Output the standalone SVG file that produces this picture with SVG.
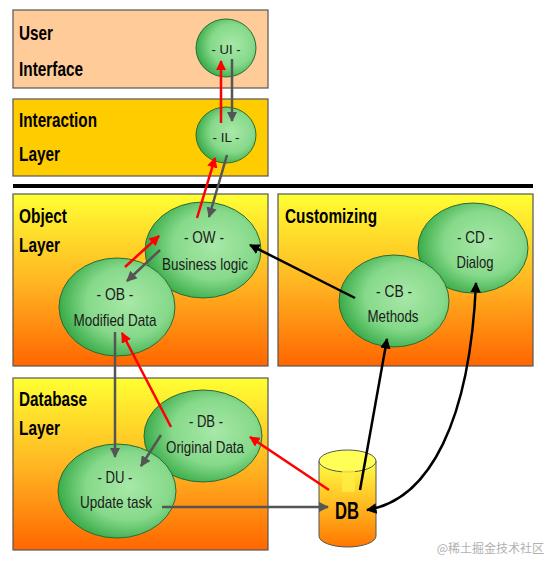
<svg xmlns="http://www.w3.org/2000/svg" width="548" height="562" viewBox="0 0 548 562">
<defs>
<style>
.layer{stroke:#555;stroke-width:1.2}
.title{font-family:"Liberation Sans",Arial,sans-serif;font-weight:bold;font-size:21px;fill:#000}
.node{fill:url(#green);stroke:#2d6a35;stroke-width:1}
.lbl{font-family:"Liberation Sans",Arial,sans-serif;font-size:17px;fill:#1a1a1a;text-anchor:middle}
.sm{font-size:13px}
.red{stroke:#ff0000;stroke-width:2.5;fill:none;marker-end:url(#ar)}
.gray{stroke:#555;stroke-width:2.5;fill:none;marker-end:url(#ag)}
.blk{stroke:#000;stroke-width:2.5;fill:none;marker-end:url(#ab)}
</style>
<linearGradient id="warm" x1="0" y1="0" x2="0" y2="1">
<stop offset="0" stop-color="#ffff33"/>
<stop offset="0.55" stop-color="#ffb020"/>
<stop offset="1" stop-color="#ff6600"/>
</linearGradient>
<linearGradient id="cyl" x1="0" y1="0" x2="0" y2="1">
<stop offset="0" stop-color="#ffff44"/>
<stop offset="0.5" stop-color="#ffbb22"/>
<stop offset="1" stop-color="#ff7700"/>
</linearGradient>
<radialGradient id="green" cx="0.6" cy="0.45" r="0.6">
<stop offset="0" stop-color="#a8e8a8"/>
<stop offset="0.6" stop-color="#86d98a"/>
<stop offset="1" stop-color="#3aac4a"/>
</radialGradient>
<marker id="ar" viewBox="0 0 10 10" refX="9" refY="5" markerWidth="4.2" markerHeight="4.2" orient="auto"><path d="M0,0 L10,5 L0,10 z" fill="#ff0000"/></marker>
<marker id="ag" viewBox="0 0 10 10" refX="9" refY="5" markerWidth="4.2" markerHeight="4.2" orient="auto"><path d="M0,0 L10,5 L0,10 z" fill="#555"/></marker>
<marker id="ab" viewBox="0 0 10 10" refX="9" refY="5" markerWidth="4.2" markerHeight="4.2" orient="auto"><path d="M0,0 L10,5 L0,10 z" fill="#000"/></marker>
<marker id="abs" viewBox="0 0 10 10" refX="1" refY="5" markerWidth="4.2" markerHeight="4.2" orient="auto"><path d="M10,0 L0,5 L10,10 z" fill="#000"/></marker>
</defs>
<rect width="548" height="562" fill="#fff"/>

<g id="layers">
<rect class="layer" x="13" y="10" width="255" height="78" fill="#ffcc99"/>
<rect class="layer" x="13" y="99" width="255" height="77" fill="#ffcc00"/>
<line x1="13" y1="186" x2="533" y2="186" stroke="#000" stroke-width="4"/>
<rect class="layer" x="13" y="194" width="255" height="172" fill="url(#warm)"/>
<rect class="layer" x="278" y="194" width="255" height="172" fill="url(#warm)"/>
<rect class="layer" x="13" y="378" width="255" height="172" fill="url(#warm)"/>
<text class="title" x="19" y="40" textLength="34" lengthAdjust="spacingAndGlyphs">User</text>
<text class="title" x="19" y="76" textLength="64" lengthAdjust="spacingAndGlyphs">Interface</text>
<text class="title" x="19" y="127" textLength="78" lengthAdjust="spacingAndGlyphs">Interaction</text>
<text class="title" x="19" y="161" textLength="41" lengthAdjust="spacingAndGlyphs">Layer</text>
<text class="title" x="19" y="223" textLength="48" lengthAdjust="spacingAndGlyphs">Object</text>
<text class="title" x="19" y="252" textLength="41" lengthAdjust="spacingAndGlyphs">Layer</text>
<text class="title" x="285" y="223" textLength="92" lengthAdjust="spacingAndGlyphs">Customizing</text>
<text class="title" x="19" y="406" textLength="68" lengthAdjust="spacingAndGlyphs">Database</text>
<text class="title" x="19" y="435" textLength="41" lengthAdjust="spacingAndGlyphs">Layer</text>
</g>

<g id="node-UI">
<ellipse class="node" cx="226" cy="48" rx="30" ry="29"/>
<text class="lbl sm" x="226" y="54" textLength="29" lengthAdjust="spacingAndGlyphs">- UI -</text>
</g>
<g id="node-IL">
<ellipse class="node" cx="226" cy="135" rx="30" ry="28"/>
<text class="lbl sm" x="226" y="142" textLength="27" lengthAdjust="spacingAndGlyphs">- IL -</text>
</g>
<g id="node-OW">
<ellipse class="node" cx="203" cy="250" rx="58" ry="48"/>
<text class="lbl" x="204" y="243" textLength="40" lengthAdjust="spacingAndGlyphs">- OW -</text>
<text class="lbl" x="205" y="270" textLength="86" lengthAdjust="spacingAndGlyphs">Business logic</text>
</g>
<g id="node-OB">
<ellipse class="node" cx="117" cy="307" rx="58" ry="49"/>
<text class="lbl" x="115" y="300" textLength="37" lengthAdjust="spacingAndGlyphs">- OB -</text>
<text class="lbl" x="115" y="326" textLength="83" lengthAdjust="spacingAndGlyphs">Modified Data</text>
</g>
<g id="node-CD">
<ellipse class="node" cx="473" cy="248" rx="55" ry="45"/>
<text class="lbl" x="475" y="243" textLength="36" lengthAdjust="spacingAndGlyphs">- CD -</text>
<text class="lbl" x="475" y="268" textLength="37" lengthAdjust="spacingAndGlyphs">Dialog</text>
</g>
<g id="node-CB">
<ellipse class="node" cx="394" cy="301" rx="55" ry="46"/>
<text class="lbl" x="394" y="297" textLength="36" lengthAdjust="spacingAndGlyphs">- CB -</text>
<text class="lbl" x="393" y="322" textLength="51" lengthAdjust="spacingAndGlyphs">Methods</text>
</g>
<g id="node-DB">
<ellipse class="node" cx="203" cy="436" rx="59" ry="46"/>
<text class="lbl" x="206" y="427" textLength="34" lengthAdjust="spacingAndGlyphs">- DB -</text>
<text class="lbl" x="205" y="453" textLength="78" lengthAdjust="spacingAndGlyphs">Original Data</text>
</g>
<g id="node-DU">
<ellipse class="node" cx="117" cy="491" rx="59" ry="47"/>
<text class="lbl" x="115" y="483" textLength="35" lengthAdjust="spacingAndGlyphs">- DU -</text>
<text class="lbl" x="116" y="508" textLength="72" lengthAdjust="spacingAndGlyphs">Update task</text>
</g>
<g id="node-DBcyl">
<path d="M319,461 L319,536 A28.5,11 0 0 0 376,536 L376,461 Z" fill="url(#cyl)" stroke="#555" stroke-width="1"/>
<ellipse cx="347.5" cy="461" rx="28.5" ry="11" fill="#ffff55" stroke="#555" stroke-width="1"/>
<path d="M342,470 L355,470 L355,492 L342,492 Z" fill="#ffee44" opacity="0.8"/>
<text x="347" y="519" font-family="'Liberation Sans',Arial,sans-serif" font-weight="bold" font-size="23" text-anchor="middle" textLength="24" lengthAdjust="spacingAndGlyphs">DB</text>
</g>

<g id="connectors">
<line class="red" x1="221" y1="123" x2="221" y2="61"/>
<line class="gray" x1="232" y1="59" x2="232" y2="121"/>
<line class="red" x1="197" y1="218" x2="215" y2="158"/>
<line class="gray" x1="227" y1="155" x2="209" y2="217"/>
<line class="red" x1="125" y1="267" x2="159" y2="236"/>
<line class="gray" x1="160" y1="250" x2="127" y2="281"/>
<line class="blk" x1="355" y1="298" x2="250" y2="245" stroke-width="3"/>
<line class="gray" x1="115" y1="332" x2="115" y2="457"/>
<line class="red" x1="171" y1="427" x2="122" y2="333"/>
<line class="gray" x1="161" y1="435" x2="141" y2="466"/>
<line class="red" x1="329" y1="490" x2="250" y2="437"/>
<line class="gray" x1="162" y1="507" x2="328" y2="507" stroke-width="4"/>
<line class="blk" x1="360" y1="490" x2="387" y2="339" stroke-width="2"/>
<path class="blk" d="M476,283 C470,420 430,500 367,510" marker-start="url(#abs)"/>
</g>

<text x="544" y="553" font-family="'Noto Sans CJK SC',sans-serif" font-size="12" fill="#b0b0b0" text-anchor="end">@稀土掘金技术社区</text>
</svg>
